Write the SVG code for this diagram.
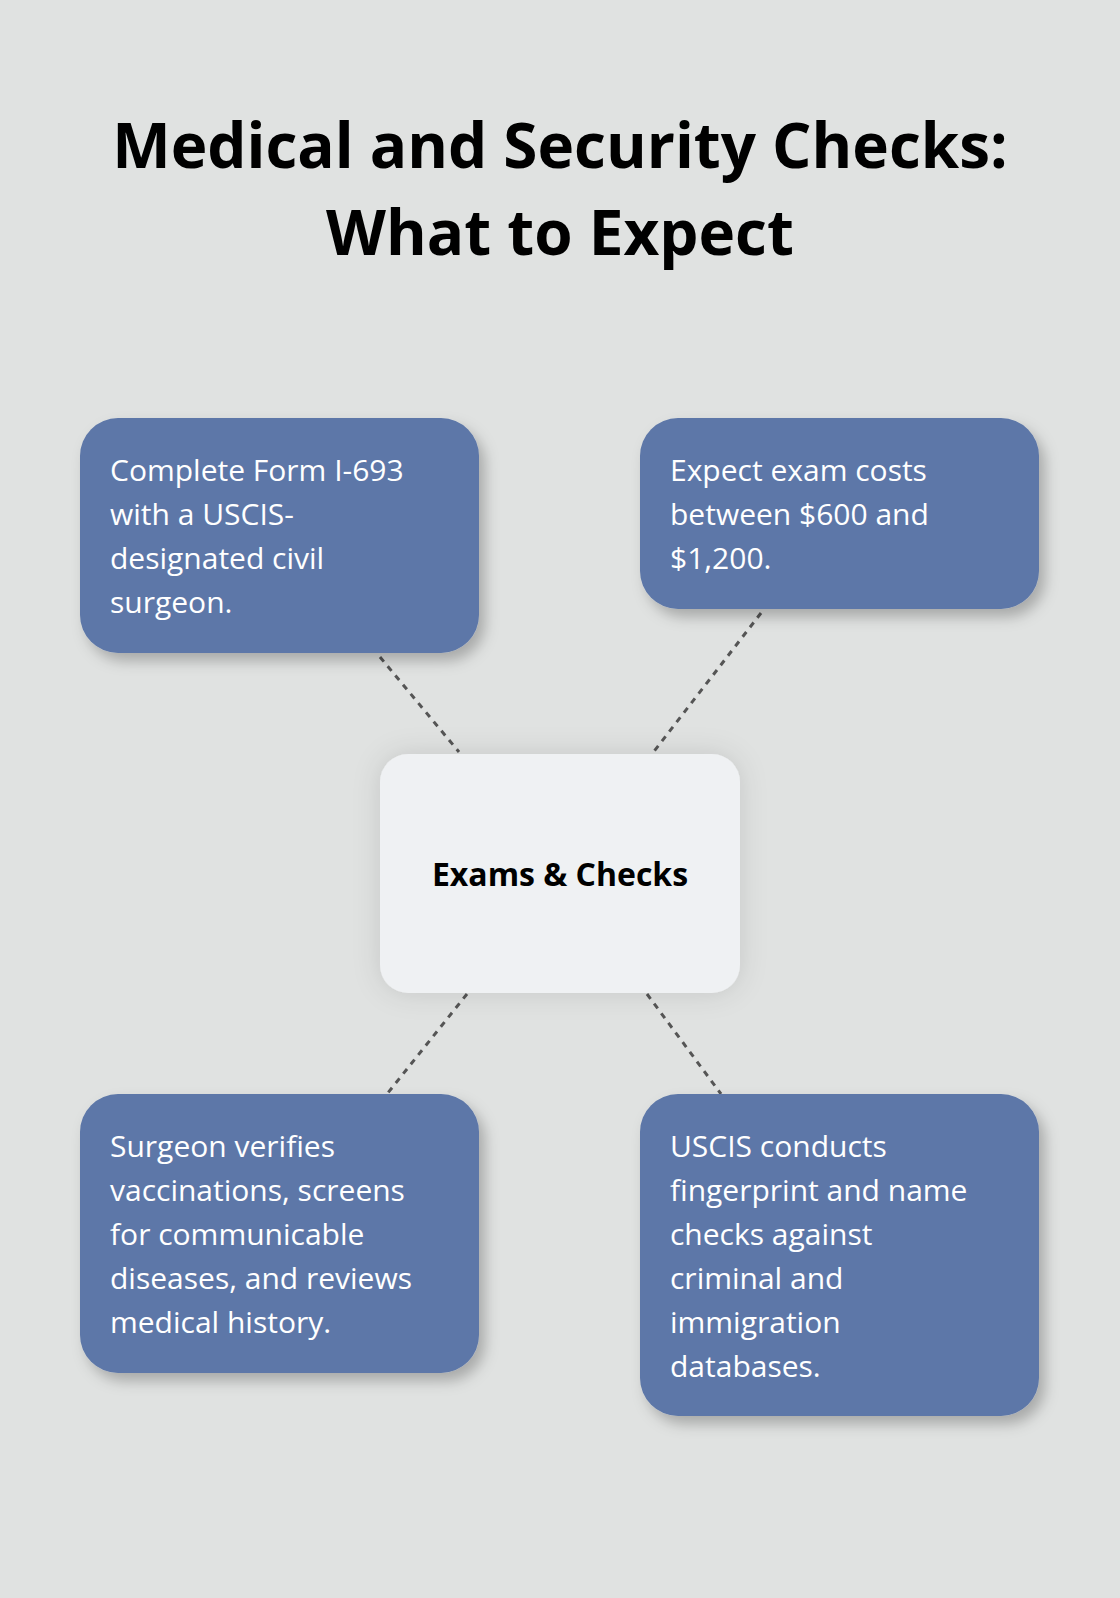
<svg xmlns="http://www.w3.org/2000/svg" width="1120" height="1598" viewBox="0 0 1120 1598">
<defs>
<filter id="sh" x="-20%" y="-20%" width="140%" height="150%"><feDropShadow dx="6" dy="8" stdDeviation="7" flood-color="#000" flood-opacity="0.25"/></filter>
<filter id="sh2" x="-30%" y="-30%" width="160%" height="160%"><feDropShadow dx="0" dy="0" stdDeviation="14" flood-color="#000" flood-opacity="0.12"/></filter>
<style>
.box{fill:#5d77a8;filter:url(#sh)}
.t{font-family:"Open Sans","Noto Sans",sans-serif;font-size:30px;fill:#fff}
.c{stroke:#555;stroke-width:3;stroke-dasharray:6 6;fill:none}
</style>
</defs>
<rect width="1120" height="1598" fill="#e0e2e1"/>
<g id="title" font-family="'Open Sans','Noto Sans',sans-serif" font-weight="bold" font-size="62" text-anchor="middle" fill="#000">
<text x="560" y="168">Medical and Security Checks:</text>
<text x="560" y="255">What to Expect</text>
</g>
<g id="connectors">
<line class="c" x1="380" y1="657" x2="459" y2="752"/>
<line class="c" x1="761" y1="613" x2="652" y2="754"/>
<line class="c" x1="467" y1="994" x2="387" y2="1094"/>
<line class="c" x1="647" y1="994" x2="721" y2="1094"/>
</g>
<g id="center">
<rect x="380" y="754" width="360" height="239" rx="28" fill="#eff1f3" filter="url(#sh2)"/>
<text x="560" y="886" text-anchor="middle" font-family="'Open Sans','Noto Sans',sans-serif" font-weight="bold" font-size="32" fill="#000">Exams &amp; Checks</text>
</g>
<g id="n1">
<rect class="box" x="80" y="418" width="399" height="235" rx="38"/>
<text class="t" x="110" y="481">Complete Form I-693</text>
<text class="t" x="110" y="525">with a USCIS-</text>
<text class="t" x="110" y="569">designated civil</text>
<text class="t" x="110" y="613">surgeon.</text>
</g>
<g id="n2">
<rect class="box" x="640" y="418" width="399" height="191" rx="38"/>
<text class="t" x="670" y="481">Expect exam costs</text>
<text class="t" x="670" y="525">between $600 and</text>
<text class="t" x="670" y="569">$1,200.</text>
</g>
<g id="n3">
<rect class="box" x="80" y="1094" width="399" height="279" rx="38"/>
<text class="t" x="110" y="1157">Surgeon verifies</text>
<text class="t" x="110" y="1201">vaccinations, screens</text>
<text class="t" x="110" y="1245">for communicable</text>
<text class="t" x="110" y="1289">diseases, and reviews</text>
<text class="t" x="110" y="1333">medical history.</text>
</g>
<g id="n4">
<rect class="box" x="640" y="1094" width="399" height="322" rx="38"/>
<text class="t" x="670" y="1157">USCIS conducts</text>
<text class="t" x="670" y="1201">fingerprint and name</text>
<text class="t" x="670" y="1245">checks against</text>
<text class="t" x="670" y="1289">criminal and</text>
<text class="t" x="670" y="1333">immigration</text>
<text class="t" x="670" y="1377">databases.</text>
</g>
</svg>
